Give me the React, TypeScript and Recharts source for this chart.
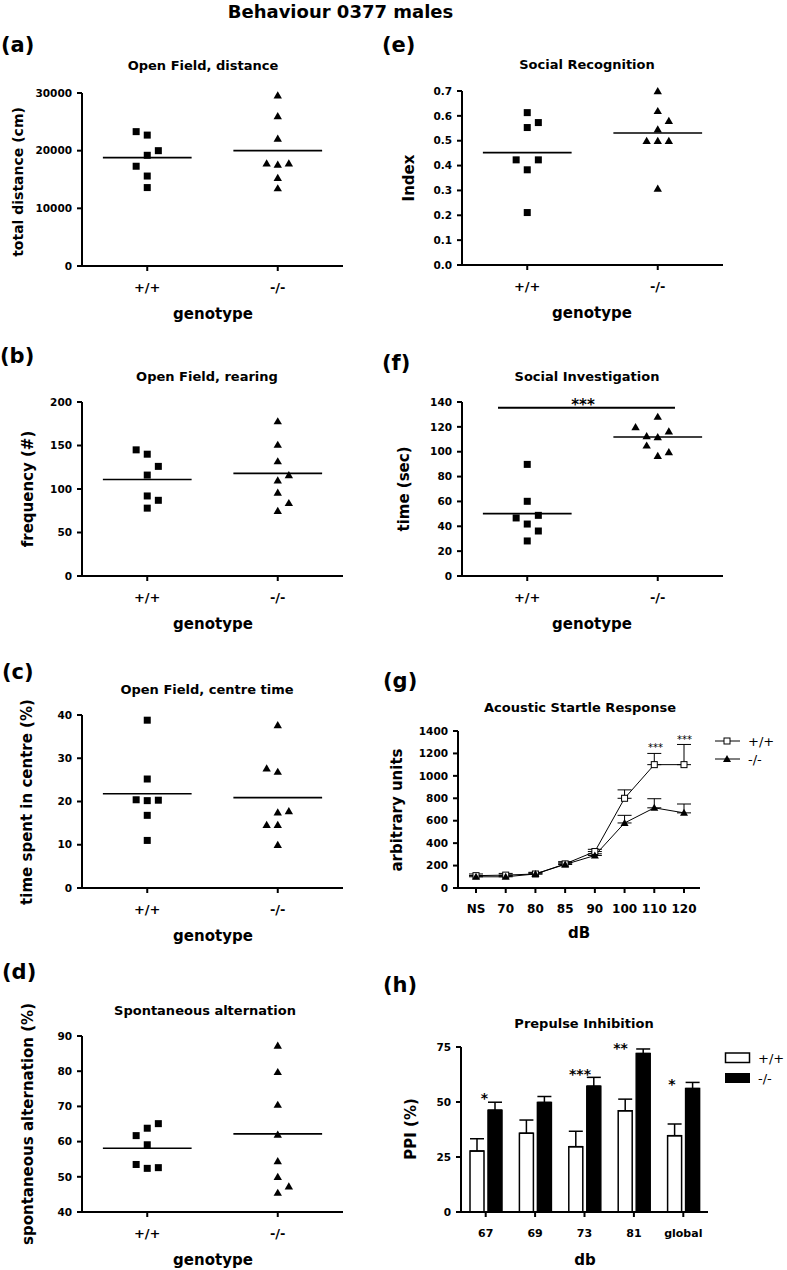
import React from 'react';
import {
  ScatterChart,
  Scatter,
  XAxis,
  YAxis,
  ReferenceLine,
  LineChart,
  Line,
  ErrorBar,
  BarChart,
  Bar,
} from 'recharts';

const FONT = '"DejaVu Sans", Verdana, sans-serif';
const JIT = 0.085; // horizontal spread of overlapping points, in group units
const genotypes = ['+/+', '-/-'];

// (a) Open Field, distance
const distWT = [23300, 22700, 20000, 19200, 17300, 15600, 13600];
const distWTJit = [-1, 0, 1, 0, -1, 0, 0];
const distKO = [29600, 26000, 22100, 17800, 17600, 17800, 15300, 13500];
const distKOJit = [0, 0, 0, -1, 0, 1, 0, 0];
const distMeans = [18800, 20000];

// (b) Open Field, rearing
const rearWT = [145, 140, 126, 116, 92, 87, 78];
const rearWTJit = [-1, 0, 1, 0, 0, 1, 0];
const rearKO = [178, 151, 132, 116, 110, 96, 84, 75];
const rearKOJit = [0, 0, 0, 1, 0, 0, 1, 0];
const rearMeans = [111, 118];

// (c) Open Field, centre time
const centreWT = [38.8, 25.2, 20.4, 20.2, 20.3, 16.8, 11.0];
const centreWTJit = [0, 0, -1, 0, 1, 0, 0];
const centreKO = [37.7, 27.7, 26.9, 17.5, 17.8, 14.6, 14.6, 10.0];
const centreKOJit = [0, -1, 0, 0, 1, -1, 0, 0];
const centreMeans = [21.8, 20.9];

// (d) Spontaneous alternation
const altWT = [65.1, 63.8, 61.7, 59.1, 53.5, 52.4, 52.6];
const altWTJit = [1, 0, -1, 0, -1, 0, 1];
const altKO = [87.3, 79.8, 70.5, 62.0, 54.5, 50.0, 47.3, 45.5];
const altKOJit = [0, 0, 0, 0, 0, 0, 1, 0];
const altMeans = [58.1, 62.2];

// (e) Social Recognition
const recWT = [0.613, 0.573, 0.553, 0.423, 0.423, 0.383, 0.211];
const recWTJit = [0, 1, 0, -1, 1, 0, 0];
const recKO = [0.70, 0.62, 0.58, 0.546, 0.50, 0.50, 0.50, 0.308];
const recKOJit = [0, 0, 1, 0, -1, 0, 1, 0];
const recMeans = [0.452, 0.531];

// (f) Social Investigation
const invWT = [89.8, 60.1, 48.8, 46.7, 41.8, 36.2, 28.2];
const invWTJit = [0, 0, 1, -1, 0, 1, 0];
const invKO = [128.2, 119.9, 116.4, 112.6, 111.8, 105.1, 99.8, 96.8];
const invKOJit = [0, -2, 1, -1, 0, -1, 1, 0];
const invMeans = [50.2, 111.8];

// (g) Acoustic Startle Response
const startleDb = ['NS', '70', '80', '85', '90', '100', '110', '120'];
const startleWT = [110, 115, 125, 215, 325, 800, 1100, 1100];
const startleWTSem = [15, 15, 15, 20, 20, 75, 100, 180];
const startleKO = [100, 100, 125, 210, 290, 580, 715, 670];
const startleKOSem = [10, 10, 10, 15, 15, 68, 81, 79];

// (h) Prepulse Inhibition
const ppiDb = ['67', '69', '73', '81', 'global'];
const ppiWT = [27.7, 35.8, 29.7, 46.0, 34.7];
const ppiWTSem = [5.6, 6.0, 7.0, 5.3, 5.3];
const ppiKO = [46.3, 49.8, 57.2, 72.0, 56.1];
const ppiKOSem = [3.6, 2.7, 4.0, 2.1, 2.8];

const startleData = startleDb.map((db, i) => ({
  db,
  wt: startleWT[i],
  wtErr: [0, startleWTSem[i]],
  ko: startleKO[i],
  koErr: [0, startleKOSem[i]],
}));

const ppiData = ppiDb.map((db, i) => ({
  db,
  wt: ppiWT[i],
  wtErr: [0, ppiWTSem[i]],
  ko: ppiKO[i],
  koErr: [0, ppiKOSem[i]],
}));

const toPoints = (values: number[], jit: number[], group: number) =>
  values.map((y, i) => ({ x: group + 0.5 + jit[i] * JIT, y }));

const axisStyle = { stroke: '#000', strokeWidth: 2 };
const yTick = { fontSize: 10.5, fontWeight: 700, fill: '#000', fontFamily: FONT };

const Square = (p: any) => (
  <rect x={p.cx - 3.5} y={p.cy - 3.5} width={7} height={7} fill="#000" />
);
const Tri = (p: any) => (
  <path d={`M${p.cx},${p.cy - 4}L${p.cx + 4.2},${p.cy + 3.2}L${p.cx - 4.2},${p.cy + 3.2}Z`} fill="#000" />
);
const OpenSquare = (p: any) => (
  <rect key={`s${p.index}`} x={p.cx - 3} y={p.cy - 3} width={6} height={6} fill="#fff" stroke="#000" strokeWidth={1} />
);
const SmallTri = (p: any) => (
  <path key={`t${p.index}`} d={`M${p.cx},${p.cy - 4}L${p.cx + 4},${p.cy + 3}L${p.cx - 4},${p.cy + 3}Z`} fill="#000" />
);

type PanelProps = {
  left: number;
  plotLeft: number;
  plotRight: number;
  plotTop: number;
  plotBottom: number;
  domain: [number, number];
  ticks: number[];
  fmt?: (v: number) => string;
  wt: { x: number; y: number }[];
  ko: { x: number; y: number }[];
  means: number[];
  children?: React.ReactNode;
};

function ScatterPanel({ left, plotLeft, plotRight, plotTop, plotBottom, domain, ticks, fmt, wt, ko, means, children }: PanelProps) {
  const m = 10;
  return (
    <div style={{ position: 'absolute', left, top: plotTop - m }}>
      <ScatterChart
        width={plotRight - left + m}
        height={plotBottom - plotTop + m + 40}
        margin={{ top: m, right: m, bottom: 0, left: 0 }}
      >
        <XAxis
          type="number"
          dataKey="x"
          domain={[0, 2]}
          ticks={[0.5, 1.5]}
          interval={0}
          tickFormatter={(v: number) => genotypes[v < 1 ? 0 : 1]}
          height={40}
          axisLine={axisStyle}
          tickLine={axisStyle}
          tickSize={5}
          tickMargin={12}
          tick={{ fontSize: 13, fontWeight: 700, fill: '#000', fontFamily: FONT }}
        />
        <YAxis
          type="number"
          dataKey="y"
          domain={domain}
          ticks={ticks}
          interval={0}
          tickFormatter={fmt}
          width={plotLeft - left}
          axisLine={axisStyle}
          tickLine={axisStyle}
          tickSize={5}
          tickMargin={5}
          tick={yTick}
        />
        <ReferenceLine segment={[{ x: 0.16, y: means[0] }, { x: 0.84, y: means[0] }]} stroke="#000" strokeWidth={1.6} />
        <ReferenceLine segment={[{ x: 1.16, y: means[1] }, { x: 1.84, y: means[1] }]} stroke="#000" strokeWidth={1.6} />
        {children}
        <Scatter data={wt} shape={Square} isAnimationActive={false} />
        <Scatter data={ko} shape={Tri} isAnimationActive={false} />
      </ScatterChart>
    </div>
  );
}

const T = ({ x, y, s, size = 13, bold = true, anchor = 'middle' }: any) => (
  <text x={x} y={y} fontSize={size} fontWeight={bold ? 700 : 400} textAnchor={anchor} fontFamily={FONT} fill="#000">
    {s}
  </text>
);

const V = ({ x, y, s, size = 15 }: any) => (
  <text
    transform={`translate(${x},${y}) rotate(-90)`}
    fontSize={size}
    fontWeight={700}
    textAnchor="middle"
    dominantBaseline="central"
    fontFamily={FONT}
    fill="#000"
  >
    {s}
  </text>
);

export default function App() {
  return (
    <div style={{ position: 'absolute', left: 0, top: 0, width: 787, height: 1270, background: '#fff', overflow: 'hidden' }}>
      <ScatterPanel
        left={0} plotLeft={82} plotRight={343} plotTop={93} plotBottom={266}
        domain={[0, 30000]} ticks={[0, 10000, 20000, 30000]}
        wt={toPoints(distWT, distWTJit, 0)} ko={toPoints(distKO, distKOJit, 1)} means={distMeans}
      />
      <ScatterPanel
        left={0} plotLeft={82} plotRight={343} plotTop={402} plotBottom={576}
        domain={[0, 200]} ticks={[0, 50, 100, 150, 200]}
        wt={toPoints(rearWT, rearWTJit, 0)} ko={toPoints(rearKO, rearKOJit, 1)} means={rearMeans}
      />
      <ScatterPanel
        left={0} plotLeft={82} plotRight={343} plotTop={715} plotBottom={888}
        domain={[0, 40]} ticks={[0, 10, 20, 30, 40]}
        wt={toPoints(centreWT, centreWTJit, 0)} ko={toPoints(centreKO, centreKOJit, 1)} means={centreMeans}
      />
      <ScatterPanel
        left={0} plotLeft={82} plotRight={343} plotTop={1036} plotBottom={1212}
        domain={[40, 90]} ticks={[40, 50, 60, 70, 80, 90]}
        wt={toPoints(altWT, altWTJit, 0)} ko={toPoints(altKO, altKOJit, 1)} means={altMeans}
      />
      <ScatterPanel
        left={390} plotLeft={462} plotRight={723} plotTop={91} plotBottom={265}
        domain={[0, 0.7]} ticks={[0, 0.1, 0.2, 0.3, 0.4, 0.5, 0.6, 0.7]} fmt={(v) => v.toFixed(1)}
        wt={toPoints(recWT, recWTJit, 0)} ko={toPoints(recKO, recKOJit, 1)} means={recMeans}
      />
      <ScatterPanel
        left={390} plotLeft={462} plotRight={723} plotTop={402} plotBottom={576}
        domain={[0, 140]} ticks={[0, 20, 40, 60, 80, 100, 120, 140]}
        wt={toPoints(invWT, invWTJit, 0)} ko={toPoints(invKO, invKOJit, 1)} means={invMeans}
      >
        <ReferenceLine segment={[{ x: 0.276, y: 135.4 }, { x: 1.632, y: 135.4 }]} stroke="#000" strokeWidth={2} />
      </ScatterPanel>

      {/* (g) Acoustic startle */}
      <div style={{ position: 'absolute', left: 390, top: 721 }}>
        <LineChart width={320} height={207} data={startleData} margin={{ top: 10, right: 10, bottom: 0, left: 0 }}>
          <XAxis
            dataKey="db"
            padding={{ left: 18, right: 16 }}
            height={40}
            interval={0}
            axisLine={axisStyle}
            tickLine={axisStyle}
            tickSize={5}
            tickMargin={11}
            tick={{ fontSize: 12, fontWeight: 700, fill: '#000', fontFamily: FONT }}
          />
          <YAxis
            domain={[0, 1400]}
            ticks={[0, 200, 400, 600, 800, 1000, 1200, 1400]}
            interval={0}
            width={68}
            axisLine={axisStyle}
            tickLine={axisStyle}
            tickSize={5}
            tickMargin={5}
            tick={yTick}
          />
          <Line dataKey="wt" stroke="#000" strokeWidth={1} dot={OpenSquare} isAnimationActive={false}>
            <ErrorBar dataKey="wtErr" direction="y" width={7} stroke="#000" strokeWidth={1} isAnimationActive={false} />
          </Line>
          <Line dataKey="ko" stroke="#000" strokeWidth={1} dot={SmallTri} isAnimationActive={false}>
            <ErrorBar dataKey="koErr" direction="y" width={7} stroke="#000" strokeWidth={1} isAnimationActive={false} />
          </Line>
        </LineChart>
      </div>

      {/* (h) Prepulse inhibition */}
      <div style={{ position: 'absolute', left: 390, top: 1037 }}>
        <BarChart
          width={328}
          height={215}
          data={ppiData}
          margin={{ top: 10, right: 10, bottom: 0, left: 0 }}
          barSize={14}
          barGap={4}
        >
          <XAxis
            dataKey="db"
            height={40}
            interval={0}
            axisLine={axisStyle}
            tickLine={axisStyle}
            tickSize={5}
            tickMargin={12}
            tick={{ fontSize: 11, fontWeight: 700, fill: '#000', fontFamily: FONT }}
          />
          <YAxis
            domain={[0, 75]}
            ticks={[0, 25, 50, 75]}
            interval={0}
            width={71}
            axisLine={axisStyle}
            tickLine={axisStyle}
            tickSize={5}
            tickMargin={5}
            tick={yTick}
          />
          <Bar dataKey="wt" fill="#fff" stroke="#000" strokeWidth={1.5} isAnimationActive={false}>
            <ErrorBar dataKey="wtErr" direction="y" width={7} stroke="#000" strokeWidth={1.5} isAnimationActive={false} />
          </Bar>
          <Bar dataKey="ko" fill="#000" stroke="#000" strokeWidth={1.5} isAnimationActive={false}>
            <ErrorBar dataKey="koErr" direction="y" width={7} stroke="#000" strokeWidth={1.5} isAnimationActive={false} />
          </Bar>
        </BarChart>
      </div>

      <svg width={787} height={1270} style={{ position: 'absolute', left: 0, top: 0, pointerEvents: 'none' }}>
        <T x={340.5} y={18} s="Behaviour 0377 males" size={18} />

        <T x={1} y={52} s="(a)" size={21} anchor="start" />
        <T x={0} y={363} s="(b)" size={21} anchor="start" />
        <T x={2} y={679} s="(c)" size={21} anchor="start" />
        <T x={2} y={979} s="(d)" size={21} anchor="start" />
        <T x={382} y={52} s="(e)" size={21} anchor="start" />
        <T x={382} y={370} s="(f)" size={21} anchor="start" />
        <T x={383} y={688} s="(g)" size={21} anchor="start" />
        <T x={383} y={992} s="(h)" size={21} anchor="start" />

        <T x={203} y={70} s="Open Field, distance" />
        <T x={207} y={381} s="Open Field, rearing" />
        <T x={207} y={694} s="Open Field, centre time" />
        <T x={205} y={1015} s="Spontaneous alternation" />
        <T x={587} y={69} s="Social Recognition" />
        <T x={587} y={381} s="Social Investigation" />
        <T x={580} y={712} s="Acoustic Startle Response" />
        <T x={584} y={1028} s="Prepulse Inhibition" />

        <T x={213} y={319} s="genotype" size={15} />
        <T x={213} y={629} s="genotype" size={15} />
        <T x={213} y={941} s="genotype" size={15} />
        <T x={213} y={1265} s="genotype" size={15} />
        <T x={592} y={318} s="genotype" size={15} />
        <T x={592} y={629} s="genotype" size={15} />
        <T x={579} y={938} s="dB" size={15} />
        <T x={585} y={1265} s="db" size={15} />

        <V x={18} y={182} s="total distance (cm)" size={14} />
        <V x={28} y={489} s="frequency (#)" />
        <V x={27} y={802} s="time spent in centre (%)" />
        <V x={28} y={1124} s="spontaneous alternation (%)" />
        <V x={409} y={178} s="Index" />
        <V x={404} y={489} s="time (sec)" />
        <V x={397} y={810} s="arbitrary units" />
        <V x={411} y={1129} s="PPI (%)" />

        <T x={583} y={410} s="***" size={15} />
        <T x={655.5} y={750.5} s="***" size={10} bold={false} />
        <T x={684.5} y={742.5} s="***" size={10} bold={false} />
        <T x={484.5} y={1102.5} s="*" size={14} />
        <T x={580} y={1078.5} s="***" size={14} />
        <T x={620.5} y={1052.5} s="**" size={14} />
        <T x={672} y={1088.5} s="*" size={14} />

        {/* legend (g) */}
        <line x1={715} y1={741} x2={740} y2={741} stroke="#000" strokeWidth={1} />
        <rect x={724} y={738} width={6} height={6} fill="#fff" stroke="#000" strokeWidth={1} />
        <T x={748} y={746} s="+/+" size={13} bold={false} anchor="start" />
        <line x1={715} y1={759} x2={740} y2={759} stroke="#000" strokeWidth={1} />
        <path d="M727,755L731,762L723,762Z" fill="#000" />
        <T x={748} y={764} s="-/-" size={13} bold={false} anchor="start" />

        {/* legend (h) */}
        <rect x={725.5} y={1053} width={24} height={9.5} fill="#fff" stroke="#000" strokeWidth={1.5} />
        <T x={758} y={1063} s="+/+" size={13} bold={false} anchor="start" />
        <rect x={725} y={1073} width={25} height={10} fill="#000" />
        <T x={758} y={1083} s="-/-" size={13} bold={false} anchor="start" />
      </svg>
    </div>
  );
}
